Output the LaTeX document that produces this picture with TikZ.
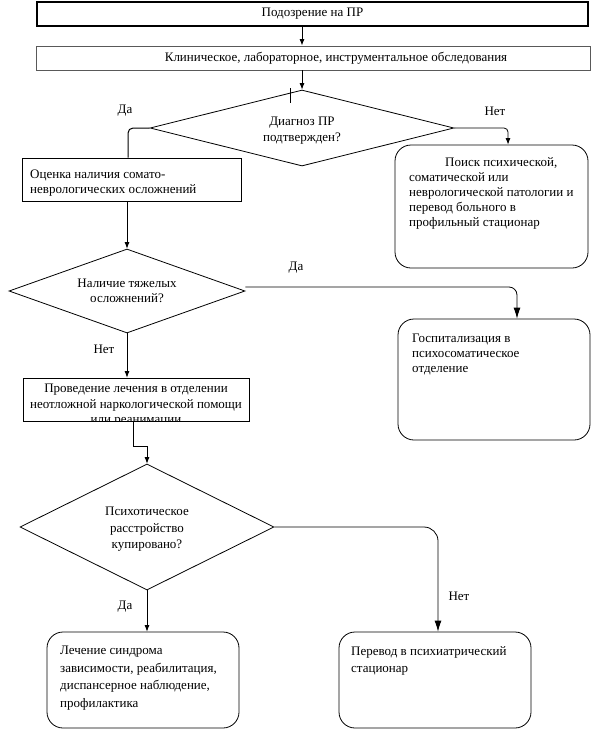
\documentclass[tikz,border=0pt]{standalone}
\usepackage{fontspec}
\setmainfont{Liberation Serif}
\usetikzlibrary{shapes.geometric,arrows.meta,calc}
\begin{document}
\begin{tikzpicture}[x=1pt,y=-1pt,
  every node/.style={font=\fontsize{13}{15}\selectfont, inner sep=0pt},
  boxA/.style={draw=black, line width=1.3pt},
  boxB/.style={draw=black!65, line width=0.9pt},
  plainbox/.style={draw=black, line width=0.8pt},
  roundbox/.style={draw=black, line width=0.8pt, rounded corners=16pt},
  dia/.style={draw=black, diamond, line width=0.8pt},
  conn/.style={line width=0.8pt},
  arr/.style={conn, -{Latex[length=6.5pt,width=5pt]}},
  bigarr/.style={conn, -{Latex[length=11pt,width=7pt]}},
  ltxt/.style={align=left, anchor=north west},
  ctxt/.style={align=center, anchor=north},
  lbl/.style={anchor=center},
  sk/.style={font=\fontsize{13}{#1}\selectfont}
]
\useasboundingbox (0,0) rectangle (596,734);

% boxes
\node[boxA, minimum width=551pt, minimum height=24pt] (b1) at (312.5,14) {};
\node (t1) at (312.5,14) {Подозрение на ПР};
\node[boxB, minimum width=554pt, minimum height=24pt] (b2) at (313,58) {};
\node (t2) at (336,58) {Клиническое, лабораторное, инструментальное обследования};

\node[dia, minimum width=304pt, minimum height=76pt] (d1) at (302,128) {};
\node[ctxt, sk=16] (td1) at (302,117) {Диагноз ПР\\подтвержден?};

\node[plainbox, minimum width=219pt, minimum height=43pt] (b3) at (131.5,179.5) {};
\node[ltxt] (t3) at (30,169.5) {Оценка наличия сомато-\\неврологических осложнений};

\node[roundbox, minimum width=193pt, minimum height=123pt] (b4) at (491.5,206.5) {};
\node[ltxt] (t4) at (409,157) {\hspace*{36pt}Поиск психической,\\соматической или\\неврологической патологии и\\перевод больного в\\профильный стационар};

\node[dia, minimum width=236pt, minimum height=84pt] (d2) at (127,291) {};
\node[ctxt] (td2) at (127,279) {Наличие тяжелых\\осложнений?};

\node[roundbox, minimum width=192pt, minimum height=121pt] (b5) at (494,379.5) {};
\node[ltxt] (t5) at (412,334) {Госпитализация в\\психосоматическое\\отделение};

\node[plainbox, minimum width=226pt, minimum height=43pt] (b6) at (136,399.5) {};
\begin{scope}
\clip (b6.north west) rectangle (b6.south east);
\node[ctxt, sk=15.5] (t6) at (136,384) {Проведение лечения в отделении\\неотложной наркологической помощи\\или реанимации};
\end{scope}

\node[dia, minimum width=254pt, minimum height=126pt] (d3) at (147,527) {};
\node[ctxt, sk=16.5] (td3) at (147,507) {Психотическое\\расстройство\\купировано?};

\node[roundbox, minimum width=192pt, minimum height=96pt] (b7) at (143,680) {};
\node[ltxt, sk=17.5] (t7) at (60,646) {Лечение синдрома\\зависимости, реабилитация,\\диспансерное наблюдение,\\профилактика};

\node[roundbox, minimum width=192pt, minimum height=96pt] (b8) at (435,680) {};
\node[ltxt, sk=17.5] (t8) at (351,646) {Перевод в психиатрический\\стационар};

% labels
\node[lbl] (l1) at (125,111) {Да};
\node[lbl] (l2) at (495,111) {Нет};
\node[lbl] (l3) at (296,268) {Да};
\node[lbl] (l4) at (104,349) {Нет};
\node[lbl] (l5) at (125,607) {Да};
\node[lbl] (l6) at (459,596) {Нет};

% connectors
\draw[arr] (b1.south -| d1.north) -- (b2.north -| d1.north);
\draw[arr] (b2.south -| d1.north) -- (d1.north);
\coordinate (tk1) at (290,88);
\coordinate (tk2) at (290,103);
\draw[conn] (tk1) -- (tk2);
\draw[conn, line width=1pt, rounded corners=5pt] (d1.west) -| ([xshift=-3.5pt]b3.north);
\draw[arr, rounded corners=4pt] (d1.east) -| ([xshift=16.5pt]b4.north);
\draw[arr] (b3.south -| d2.north) -- (d2.north);
\draw[bigarr, rounded corners=8pt] ([yshift=4pt]d2.east) -| ([xshift=23pt]b5.north);
\draw[arr] (d2.south) -- (b6.north -| d2.south);
\draw[arr] ([xshift=-3pt]b6.south) -- ++(0,25) -| (d3.north);
\draw[arr] (d3.south) -- (b7.north -| d3.south);
\draw[bigarr, rounded corners=14pt] (d3.east) -| ([xshift=3pt]b8.north);
\end{tikzpicture}
\end{document}
